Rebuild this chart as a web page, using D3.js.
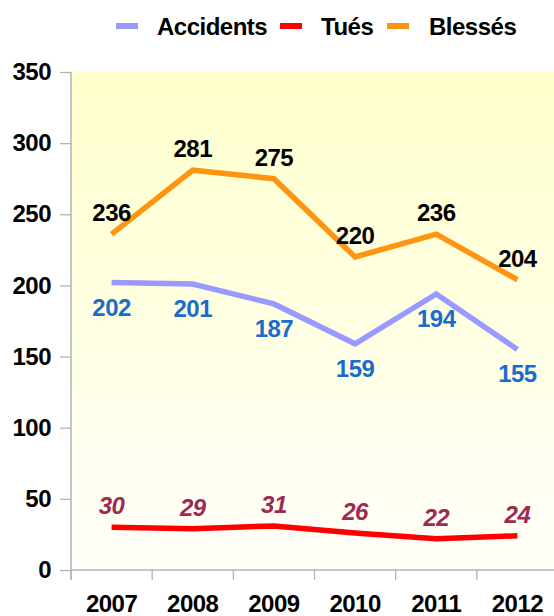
<!DOCTYPE html>
<html>
<head>
<meta charset="utf-8">
<script src="https://cdn.jsdelivr.net/npm/d3@7"></script>
<style>
  html, body { margin: 0; padding: 0; background: #ffffff; }
  svg { display: block; font-family: "Liberation Sans", Arial, sans-serif; }
</style>
</head>
<body>
<svg id="chart" width="554" height="616"></svg>
<script>
const years = ["2007", "2008", "2009", "2010", "2011", "2012"];
const accidents = [202, 201, 187, 159, 194, 155];
const tues = [30, 29, 31, 26, 22, 24];
const blesses = [236, 281, 275, 220, 236, 204];
const yTicks = [0, 50, 100, 150, 200, 250, 300, 350];
const seriesNames = ["Accidents", "Tués", "Blessés"];

(function () {
const FS = 24, LS = -0.5;
const series = [
  { name: seriesNames[0], values: accidents, color: "#9999ff", labelColor: "#1a6ccc", italic: false, above: false },
  { name: seriesNames[1], values: tues, color: "#ff0000", labelColor: "#9e2a52", italic: true, above: true },
  { name: seriesNames[2], values: blesses, color: "#ff9410", labelColor: "#000000", italic: false, above: true }
];

const svg = d3.select("#chart");
const mL = 71, mR = 558, mT = 72, mB = 570;

const x = d3.scaleBand().domain(years).range([mL, mR]).padding(0);
const y = d3.scaleLinear().domain([0, 350]).range([mB, mT]);

// background gradient
const defs = svg.append("defs");
const grad = defs.append("linearGradient").attr("id", "bg").attr("x1", 0).attr("y1", 0).attr("x2", 0).attr("y2", 1);
grad.append("stop").attr("offset", "0%").attr("stop-color", "#ffffcc");
grad.append("stop").attr("offset", "100%").attr("stop-color", "#fffffa");
svg.append("rect").attr("x", mL).attr("y", mT - 1).attr("width", mR - mL).attr("height", mB - mT + 1).attr("fill", "url(#bg)");

// y axis
const yAxis = svg.append("g").attr("transform", `translate(${mL},0)`)
  .call(d3.axisLeft(y).tickValues(yTicks).tickSize(11).tickPadding(8).tickFormat(d3.format("d")));
yAxis.select(".domain").attr("stroke", "#b3b3b3").attr("stroke-width", 1.5)
  .attr("d", `M0,${mT}V${mB + 10}`);
yAxis.selectAll(".tick line").attr("stroke", "#b3b3b3").attr("stroke-width", 1.3);
yAxis.selectAll(".tick text").attr("font-size", FS).attr("font-weight", "bold").attr("fill", "#000")
  .attr("letter-spacing", LS).attr("x", -20)
  .attr("font-family", "Liberation Sans, Arial, sans-serif");

// x axis
const xAxis = svg.append("g").attr("transform", `translate(0,${mB})`)
  .call(d3.axisBottom(x).tickSize(0).tickPadding(0));
xAxis.select(".domain").attr("stroke", "#b3b3b3").attr("stroke-width", 1.5).attr("d", `M${mL},0H${mR}`);
xAxis.selectAll(".tick text").attr("font-size", FS).attr("font-weight", "bold").attr("fill", "#000")
  .attr("letter-spacing", LS)
  .attr("font-family", "Liberation Sans, Arial, sans-serif").attr("dy", null).attr("y", 42);
// boundary ticks between categories
const bounds = years.map(d => x(d)).concat([mR]);
svg.append("g").selectAll("line").data(bounds).join("line")
  .attr("x1", d => d).attr("x2", d => d).attr("y1", mB).attr("y2", mB + 10)
  .attr("stroke", "#b3b3b3").attr("stroke-width", 1.3);

const cx = d => x(d) + x.bandwidth() / 2;

// lines
const line = d3.line().x((d, i) => cx(years[i])).y(d => y(d));
series.forEach(s => {
  svg.append("path").datum(s.values).attr("d", line)
    .attr("fill", "none").attr("stroke", s.color).attr("stroke-width", 5.5)
    .attr("stroke-linejoin", "miter").attr("stroke-linecap", "butt");
});

// labels
series.forEach(s => {
  svg.append("g").selectAll("text").data(s.values).join("text")
    .attr("x", (d, i) => cx(years[i]))
    .attr("y", d => s.above ? y(d) - 13 : y(d) + 33)
    .attr("text-anchor", "middle")
    .attr("font-size", FS).attr("font-weight", "bold")
    .attr("letter-spacing", LS)
    .attr("font-style", s.italic ? "italic" : "normal")
    .attr("fill", s.labelColor)
    .text(d => d);
});

// legend
const legendItems = [
  { name: seriesNames[0], color: series[0].color, sx: 116, tx: 157 },
  { name: seriesNames[1], color: series[1].color, sx: 280, tx: 321 },
  { name: seriesNames[2], color: series[2].color, sx: 387, tx: 429 }
];
const lg = svg.append("g");
legendItems.forEach(it => {
  lg.append("rect").attr("x", it.sx).attr("y", 23).attr("width", 22).attr("height", 6).attr("fill", it.color);
  lg.append("text").attr("x", it.tx).attr("y", 35).attr("font-size", FS).attr("font-weight", "bold")
    .attr("letter-spacing", LS)
    .attr("fill", "#000").text(it.name);
});
})();
</script>
</body>
</html>
